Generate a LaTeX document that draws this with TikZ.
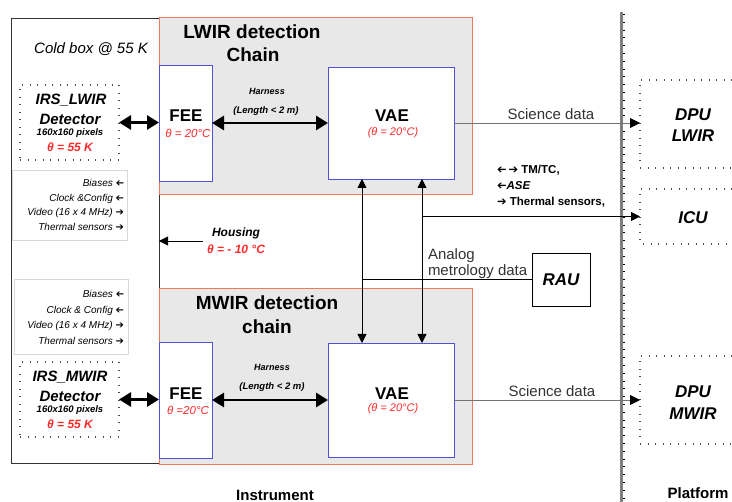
\documentclass[tikz,border=0pt]{standalone}
\usepackage{fontspec}
\setmainfont{Liberation Sans}
\newfontfamily\dejavu{DejaVu Sans}
\usepackage{graphicx}
\usetikzlibrary{arrows.meta}
\definecolor{chainorange}{HTML}{F2785A}
\definecolor{chaingray}{HTML}{E8E8E8}
\definecolor{blueedge}{HTML}{5050D8}
\definecolor{thetared}{HTML}{FF2A2A}
\definecolor{textgray}{HTML}{333333}
\newcommand\fsz[1]{\fontsize{#1}{#1}\selectfont}
\newcommand\rarr{{\dejavu\bfseries ➔}}
\newcommand\larr{\reflectbox{\dejavu\bfseries ➔}}
\tikzset{
  box/.style={rectangle, inner sep=0pt, outer sep=0pt, anchor=north west},
  chainbox/.style={box, draw=chainorange, fill=chaingray, line width=1pt},
  bluebox/.style={box, draw=blueedge, fill=white, line width=0.9pt},
  coldbox/.style={box, draw=black!80, fill=white, line width=0.9pt},
  sigbox/.style={box, draw=black!15, fill=white, line width=0.6pt},
  dotbox/.style={box, draw=black!70, line width=1.1pt, dash pattern=on 1pt off 6.5pt},
  dotline/.style={draw=black!70, line width=1.1pt, dash pattern=on 1pt off 6.5pt},
  raubox/.style={box, draw=black, fill=white, line width=0.9pt},
  txt/.style={inner sep=0pt, outer sep=0pt},
  bigarrow/.style={{Triangle[length=12pt,width=14pt]}-{Triangle[length=12pt,width=14pt]}, line width=2.8pt},
  conn/.style={-{Triangle[length=9pt,width=9pt]}, line width=0.8pt},
  dconn/.style={{Triangle[length=9pt,width=9pt]}-{Triangle[length=9pt,width=9pt]}, line width=0.8pt},
  sci/.style={draw=black!55, line width=0.9pt, -{Triangle[length=10pt,width=10pt,color=black]}},
}
\begin{document}
\begin{tikzpicture}[x=1pt,y=-1pt]
\useasboundingbox[fill=white] (0,0) rectangle (732,502);

% ---- boxes ----
\node[coldbox, minimum width=148pt, minimum height=445pt] (cold) at (11,18) {};
\node[chainbox, minimum width=313pt, minimum height=177pt] (lwirC) at (159,18) {};
\node[chainbox, minimum width=313pt, minimum height=176pt] (mwirC) at (159,289) {};
\node[bluebox, minimum width=53pt, minimum height=116pt] (feeL) at (159,65) {};
\node[bluebox, minimum width=53pt, minimum height=116pt] (feeM) at (159,342) {};
\node[bluebox, minimum width=126pt, minimum height=112pt] (vaeL) at (328,67) {};
\node[bluebox, minimum width=126pt, minimum height=114pt] (vaeM) at (328,343) {};
\node[dotbox, minimum width=99pt, minimum height=75pt] (detL) at (20,85) {};
\node[dotbox, minimum width=99pt, minimum height=75pt] (detM) at (20,362) {};
\node[sigbox, minimum width=115pt, minimum height=70pt] (sigL) at (12,170) {};
\node[sigbox, minimum width=114pt, minimum height=75pt] (sigM) at (14,279) {};
\node[raubox, minimum width=58pt, minimum height=53pt] (rau) at (532,253) {};
\node[box, minimum width=92pt, minimum height=88pt] (dpuL) at (640,80) {};
\node[box, minimum width=92pt, minimum height=55pt] (icu) at (640,189) {};
\node[box, minimum width=92pt, minimum height=88pt] (dpuM) at (640,356) {};
\draw[dotline] (dpuL.north east) -- (dpuL.north west) -- (dpuL.south west) -- (dpuL.south east);
\draw[dotline] (icu.north east) -- (icu.north west) -- (icu.south west) -- (icu.south east);
\draw[dotline] (dpuM.north east) -- (dpuM.north west) -- (dpuM.south west) -- (dpuM.south east);

% ---- platform boundary ----
\draw[black!50, line width=3pt] (621.5,12) -- (621.5,502);
\draw[black, line width=2pt, dash pattern=on 0.8pt off 7pt] (624,14) -- (624,502);

% ---- texts ----
\node[txt, font=\fsz{15}\itshape] (coldT) at (91,49) {Cold box @ 55 K};
\node[txt, font=\fsz{19}\bfseries] (lwirT1) at (252,32) {LWIR detection};
\node[txt, font=\fsz{19}\bfseries] (lwirT2) at (253,55) {Chain};
\node[txt, font=\fsz{19}\bfseries] (mwirT1) at (267,303) {MWIR detection};
\node[txt, font=\fsz{19}\bfseries] (mwirT2) at (267,327) {chain};

\node[txt, font=\fsz{17}\bfseries] (feeLT) at (186,116) {FEE};
\node[txt, font=\fsz{11.5}\itshape, text=thetared] (feeLth) at (188,133) {θ = 20°C};
\node[txt, font=\fsz{17}\bfseries] (feeMT) at (186,394) {FEE};
\node[txt, font=\fsz{11.5}\itshape, text=thetared] (feeMth) at (188,410) {θ =20°C};
\node[txt, font=\fsz{17}\bfseries] (vaeLT) at (392,116) {VAE};
\node[txt, font=\fsz{11}\itshape, text=thetared] (vaeLth) at (393,133) {(θ = 20°C)};
\node[txt, font=\fsz{17}\bfseries] (vaeMT) at (392,394) {VAE};
\node[txt, font=\fsz{11}\itshape, text=thetared] (vaeMth) at (393,409) {(θ = 20°C)};

\node[txt, font=\fsz{9}\bfseries\itshape] (harnL1) at (267,91) {Harness};
\node[txt, font=\fsz{9.5}\bfseries\itshape] (harnL2) at (266,111) {(Length < 2 m)};
\node[txt, font=\fsz{9}\bfseries\itshape] (harnM1) at (272,367) {Harness};
\node[txt, font=\fsz{9.5}\bfseries\itshape] (harnM2) at (272,387) {(Length < 2 m)};

\node[txt, font=\fsz{15}\bfseries\itshape] (detL1) at (71,100) {IRS\_LWIR};
\node[txt, font=\fsz{15}\bfseries\itshape] (detL2) at (70,119) {Detector};
\node[txt, font=\fsz{9.5}\bfseries\itshape] (detL3) at (70,133) {160x160 pixels};
\node[txt, font=\fsz{12}\bfseries\itshape, text=thetared] (detL4) at (70,147) {θ = 55 K};
\node[txt, font=\fsz{15}\bfseries\itshape] (detM1) at (70,377) {IRS\_MWIR};
\node[txt, font=\fsz{15}\bfseries\itshape] (detM2) at (70,396) {Detector};
\node[txt, font=\fsz{9.5}\bfseries\itshape] (detM3) at (70,410) {160x160 pixels};
\node[txt, font=\fsz{12}\bfseries\itshape, text=thetared] (detM4) at (70,424) {θ = 55 K};

\node[txt, font=\fsz{10}\itshape, anchor=east] (sL1) at (124,183) {Biases \larr};
\node[txt, font=\fsz{10}\itshape, anchor=east] (sL2) at (124,199) {Clock \&Config \larr};
\node[txt, font=\fsz{10}\itshape, anchor=east] (sL3) at (124,213) {Video (16 x 4 MHz) \rarr};
\node[txt, font=\fsz{10}\itshape, anchor=east] (sL4) at (124,227) {Thermal sensors \rarr};
\node[txt, font=\fsz{10}\itshape, anchor=east] (sM1) at (124,294) {Biases \larr};
\node[txt, font=\fsz{10}\itshape, anchor=east] (sM2) at (124,311) {Clock \& Config \larr};
\node[txt, font=\fsz{10}\itshape, anchor=east] (sM3) at (124,326) {Video (16 x 4 MHz) \rarr};
\node[txt, font=\fsz{10}\itshape, anchor=east] (sM4) at (124,341) {Thermal sensors \rarr};

\node[txt, font=\fsz{12}\bfseries\itshape] (hous1) at (236,233) {Housing};
\node[txt, font=\fsz{12}\bfseries\itshape, text=thetared] (hous2) at (236,249) {θ = - 10 °C};

\node[txt, font=\fsz{15}, text=textgray] (sciL) at (551,114) {Science data};
\node[txt, font=\fsz{15}, text=textgray] (sciM) at (552,391) {Science data};
\node[txt, font=\fsz{15}, text=textgray, anchor=west] (ana1) at (428,256) {Analog};
\node[txt, font=\fsz{15}, text=textgray, anchor=west] (ana2) at (428,272) {metrology data};

\node[txt, font=\fsz{11.5}\bfseries, anchor=west] (tm1) at (497,170) {\larr\,\rarr\ TM/TC,};
\node[txt, font=\fsz{11.5}\bfseries, anchor=west] (tm2) at (497,186) {\larr\textit{ASE}};
\node[txt, font=\fsz{11.5}\bfseries, anchor=west] (tm3) at (497,202) {\rarr\ Thermal sensors,};

\node[txt, font=\fsz{17}\bfseries\itshape] (rauT) at (rau.center) {RAU};
\node[txt, font=\fsz{17}\bfseries\itshape] (dpuL1) at (693,115) {DPU};
\node[txt, font=\fsz{17}\bfseries\itshape] (dpuL2) at (693,136) {LWIR};
\node[txt, font=\fsz{17}\bfseries\itshape] (icuT) at (693,218) {ICU};
\node[txt, font=\fsz{17}\bfseries\itshape] (dpuM1) at (693,392) {DPU};
\node[txt, font=\fsz{17}\bfseries\itshape] (dpuM2) at (693,414) {MWIR};

\node[txt, font=\fsz{15}\bfseries] (instr) at (275,495) {Instrument};
\node[txt, font=\fsz{15}\bfseries] (platf) at (698,493) {Platform};

% ---- connectors ----
\coordinate (v1) at (362,0);
\coordinate (v2) at (422,0);
\coordinate (hs) at (203,241);

\draw[bigarrow] (detL.east) -- (detL.east -| feeL.west);
\draw[bigarrow] (detM.east) -- (detM.east -| feeM.west);
\draw[bigarrow] (feeL.east) -- (feeL.east -| vaeL.west);
\draw[bigarrow] (feeM.east) -- (feeM.east -| vaeM.west);

\draw[dconn] (vaeL.south -| v1) -- (vaeM.north -| v1);
\draw[dconn] (vaeL.south -| v2) -- (vaeM.north -| v2);
\draw[line width=0.8pt] (rau.west -| v1) -- (rau.west);
\draw[conn] (icu.west -| v2) -- (icu.west);
\draw[conn] (hs) -- (hs -| cold.east);

\draw[sci] (vaeL.east) -- (vaeL.east -| dpuL.west);
\draw[sci] (vaeM.east) -- (vaeM.east -| dpuM.west);
\end{tikzpicture}
\end{document}
